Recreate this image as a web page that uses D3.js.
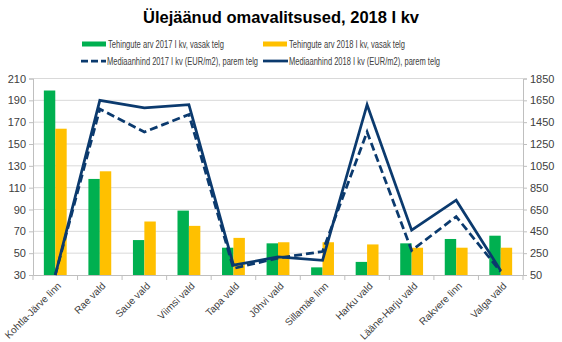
<!DOCTYPE html>
<html>
<head>
<meta charset="utf-8">
<script src="https://cdn.jsdelivr.net/npm/d3@7"></script>
<style>
  body { margin: 0; background: #fff; }
  text { font-family: "Liberation Sans", Arial, sans-serif; }
</style>
</head>
<body>
<div id="chart"></div>
<script>
// data
const categories = ["Kohtla-Järve linn", "Rae vald", "Saue vald", "Viimsi vald", "Tapa vald", "Jõhvi vald",
  "Sillamäe linn", "Harku vald", "Lääne-Harju vald", "Rakvere linn", "Valga vald"];
const deals2017 = [199, 118, 62, 89, 55, 59, 37, 42, 59, 63, 66];
const deals2018 = [164, 125, 79, 75, 64, 60, 60, 58, 55, 55, 55];
const median2017 = [50, 1570, 1360, 1520, 110, 205, 265, 1360, 275, 585, 80];
const median2018 = [50, 1650, 1580, 1610, 140, 215, 185, 1610, 460, 735, 90];
const leftTicks = [30, 50, 70, 90, 110, 130, 150, 170, 190, 210];
const rightTicks = [50, 250, 450, 650, 850, 1050, 1250, 1450, 1650, 1850];

const W = 562, H = 342;
const navy = "#0B3A6E";
let margin = { top: 78.5, right: 39, bottom: 67, left: 33 },
  width = W - margin.left - margin.right,
  height = H - margin.top - margin.bottom;

let svg = d3.select("#chart").append("svg")
  .attr("width", W)
  .attr("height", H);

// title
svg.append("text")
  .attr("x", 281).attr("y", 23)
  .attr("text-anchor", "middle")
  .style("font-size", "16.5px").style("font-weight", "bold")
  .text("Ülejäänud omavalitsused, 2018 I kv");

// legend
let legend = [
  { x: 82, y: 44, w: 116, type: "bar", color: "#00B050", label: "Tehingute arv 2017 I kv, vasak telg" },
  { x: 263, y: 44, w: 116, type: "bar", color: "#FFC000", label: "Tehingute arv 2018 I kv, vasak telg" },
  { x: 81, y: 61, w: 151, type: "dash", color: navy, label: "Mediaanhind 2017 I kv (EUR/m2), parem telg" },
  { x: 263, y: 61, w: 151, type: "line", color: navy, label: "Mediaanhind 2018 I kv (EUR/m2), parem telg" }
];
legend.forEach(function (d) {
  let g = svg.append("g").attr("transform", "translate(" + d.x + "," + d.y + ")");
  if (d.type === "bar") {
    g.append("rect").attr("x", 0).attr("y", -2.5).attr("width", 24).attr("height", 5).attr("fill", d.color);
  } else {
    g.append("line").attr("x1", 0).attr("x2", 25).attr("y1", 0).attr("y2", 0)
      .attr("stroke", d.color).attr("stroke-width", 2.75)
      .attr("stroke-dasharray", d.type === "dash" ? "7,3" : null);
  }
  g.append("text").attr("x", 26).attr("y", 3.5)
    .attr("textLength", d.w).attr("lengthAdjust", "spacingAndGlyphs")
    .style("font-size", "10px").attr("fill", "#404040").text(d.label);
});

let chart = svg.append("g")
  .attr("transform", "translate(" + margin.left + "," + margin.top + ")");

let x = d3.scaleBand().domain(categories).range([0, width]);
let xBar = d3.scaleBand().domain(["a", "b"]).range([0, x.bandwidth()]).paddingOuter(0.95).paddingInner(0);
let yL = d3.scaleLinear().domain([30, 210]).range([height, 0]);
let yR = d3.scaleLinear().domain([50, 1850]).range([height, 0]);

// gridlines
chart.append("g").selectAll("line")
  .data(leftTicks.slice(1))
  .enter().append("line")
  .attr("x1", 0).attr("x2", width)
  .attr("y1", function (d) { return yL(d); }).attr("y2", function (d) { return yL(d); })
  .attr("stroke", "#D9D9D9").attr("stroke-width", 1);

// bars
let groups = chart.append("g").selectAll("g")
  .data(categories)
  .enter().append("g")
  .attr("transform", function (d) { return "translate(" + x(d) + ",0)"; });
groups.append("rect")
  .attr("x", xBar("a")).attr("width", xBar.bandwidth())
  .attr("y", function (d, i) { return yL(deals2017[i]); })
  .attr("height", function (d, i) { return height - yL(deals2017[i]); })
  .attr("fill", "#00B050");
groups.append("rect")
  .attr("x", xBar("b")).attr("width", xBar.bandwidth())
  .attr("y", function (d, i) { return yL(deals2018[i]); })
  .attr("height", function (d, i) { return height - yL(deals2018[i]); })
  .attr("fill", "#FFC000");

// axes
let axisColor = "#BFBFBF";
let xAxis = chart.append("g")
  .attr("transform", "translate(0," + height + ")")
  .call(d3.axisBottom(x).tickSize(0).tickFormat(""));
xAxis.select(".domain").attr("stroke", axisColor);
chart.append("g").selectAll("line")
  .data(d3.range(categories.length + 1))
  .enter().append("line")
  .attr("x1", function (i) { return i * x.step(); }).attr("x2", function (i) { return i * x.step(); })
  .attr("y1", height).attr("y2", height + 5)
  .attr("stroke", axisColor);

let leftAxis = chart.append("g")
  .call(d3.axisLeft(yL).tickValues(leftTicks).tickSize(4).tickPadding(3));
let rightAxis = chart.append("g")
  .attr("transform", "translate(" + width + ",0)")
  .call(d3.axisRight(yR).tickValues(rightTicks).tickFormat(d3.format("d")).tickSize(4).tickPadding(3));
[leftAxis, rightAxis].forEach(function (a) {
  a.select(".domain").attr("stroke", axisColor);
  a.selectAll(".tick line").attr("stroke", axisColor);
  a.selectAll(".tick text").attr("fill", "#404040")
    .style("font-size", "11px").style("font-family", "Liberation Sans, Arial, sans-serif");
});

// category labels
chart.append("g").selectAll("text")
  .data(categories)
  .enter().append("text")
  .attr("transform", function (d) {
    return "translate(" + (x(d) + x.bandwidth() / 2 + 4) + "," + (height + 9) + ") rotate(-45)";
  })
  .attr("text-anchor", "end")
  .attr("dy", "0.35em")
  .style("font-size", "10px")
  .attr("fill", "#404040")
  .text(function (d) { return d; });

// lines
let line = function (values) {
  return d3.line()
    .x(function (d, i) { return x(categories[i]) + x.bandwidth() / 2; })
    .y(function (d) { return yR(d); })(values);
};
chart.append("path")
  .attr("d", line(median2017))
  .attr("fill", "none").attr("stroke", navy).attr("stroke-width", 2.75)
  .attr("stroke-dasharray", "8,4");
chart.append("path")
  .attr("d", line(median2018))
  .attr("fill", "none").attr("stroke", navy).attr("stroke-width", 2.75);
</script>
</body>
</html>
